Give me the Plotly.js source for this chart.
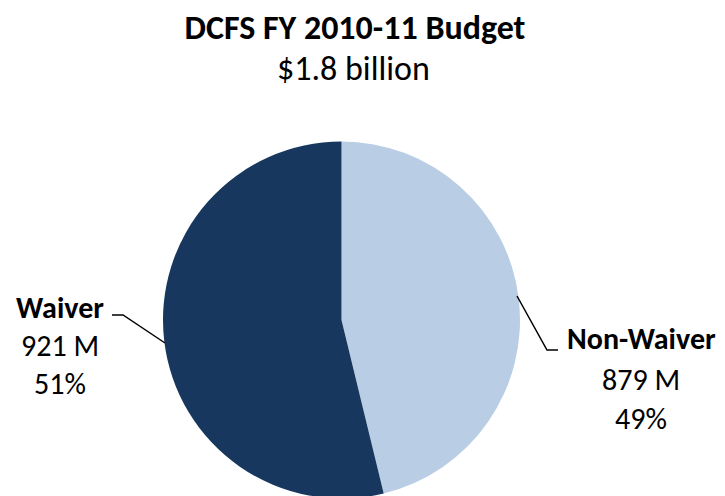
<!DOCTYPE html>
<html>
<head>
<meta charset="utf-8">
<script src="https://cdn.plot.ly/plotly-3.0.1.min.js"></script>
<style>
html,body{margin:0;padding:0;overflow:hidden;background:#fff;}
#chart{width:725px;height:500px;}
</style>
</head>
<body>
<div id="chart"></div>
<script>
// ---- data ----
var categories = ['Non-Waiver', 'Waiver'];
var amountsM = [879, 921];              // $ millions, as labelled
var pctLabels = ['49%', '51%'];          // as labelled
var drawnShares = [46.2, 53.8];          // slice sizes as drawn in the picture (%)
var colors = ['#B9CDE5', '#17375E'];
var chartTitle = 'DCFS FY 2010-11 Budget';
var chartSubtitle = '$1.8 billion';

var W = 725, H = 500;
function px(x){ return x / W; }
function py(y){ return (H - y) / H; }

var FONT = 'Carlito, Lato, "Open Sans", sans-serif';
var FS_T = 34;
var FS = 30;

var trace = {
  type: 'pie',
  labels: categories,
  values: drawnShares,
  sort: false,
  direction: 'clockwise',
  rotation: 0,
  textinfo: 'none',
  hoverinfo: 'label',
  marker: { colors: colors, line: { width: 0 } },
  domain: { x: [px(163), px(520)], y: [py(498.5), py(141.5)] },
  showlegend: false
};

function lab(x, y, txt, bold, size){
  return { xref:'paper', yref:'paper', x:px(x), y:py(y), xanchor:'center', yanchor:'middle',
    text: bold ? '<b>'+txt+'</b>' : txt, showarrow:false,
    font:{ family: FONT, size: size || FS, color:'#000' } };
}

var annotations = [
  lab(353, 68, chartSubtitle, false, FS_T),
  lab(60, 307, categories[1], true),
  lab(60, 345, amountsM[1] + ' M', false),
  lab(60, 383, pctLabels[1], false),
  lab(641, 339, categories[0], true),
  lab(641, 379, amountsM[0] + ' M', false),
  lab(641, 418, pctLabels[0], false)
];

var lineStyle = { color:'#000', width: 1.5 };
var shapes = [
  { type:'path', xref:'paper', yref:'paper',
    path: 'M ' + px(112) + ' ' + py(315) + ' L ' + px(123) + ' ' + py(315) + ' L ' + px(165) + ' ' + py(343),
    line: lineStyle },
  { type:'path', xref:'paper', yref:'paper',
    path: 'M ' + px(517) + ' ' + py(296) + ' L ' + px(547) + ' ' + py(350) + ' L ' + px(558) + ' ' + py(350),
    line: lineStyle }
];

var layout = {
  width: W, height: H,
  margin: { l:0, r:0, t:0, b:0 },
  paper_bgcolor: '#fff',
  title: { text: '<b>' + chartTitle + '</b>', x: px(355), xanchor: 'center', y: py(27), yanchor: 'middle',
           font: { family: FONT, size: FS_T, color: '#000' } },
  annotations: annotations,
  shapes: shapes
};

Plotly.newPlot('chart', [trace], layout, { displayModeBar: false, staticPlot: true });
</script>
</body>
</html>
